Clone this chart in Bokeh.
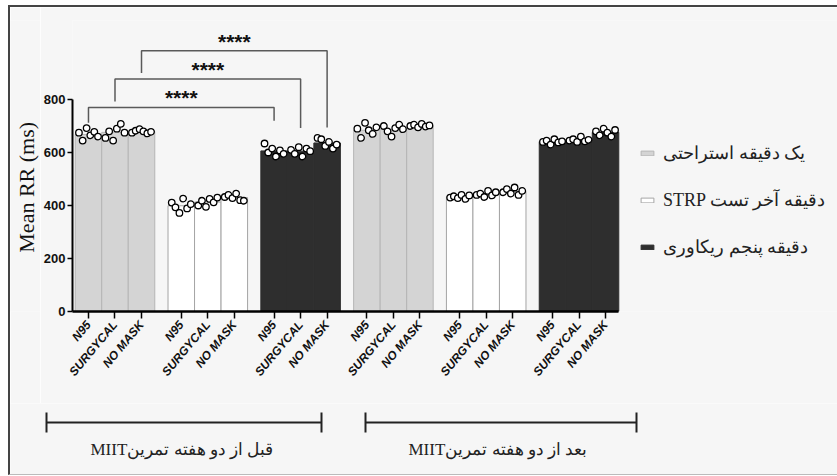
import math
from bokeh.plotting import figure
from bokeh.models import FixedTicker, Legend, LegendItem
from bokeh.layouts import column, row
from bokeh.core.properties import value
from bokeh.embed import file_html
from bokeh.resources import INLINE

# ---------------- data ----------------
masks = ["N95", "SURGYCAL", "NO MASK"]
phases = ["یک دقیقه استراحتی", "STRP دقیقه آخر تست", "دقیقه پنجم ریکاوری"]
periods = ["MIITقبل از دو هفته تمرین", "MIITبعد از دو هفته تمرین"]
y_ticks = [0, 200, 400, 600, 800]
y_label = "Mean RR (ms)"

# bar means (ms), order: N95, SURGYCAL, NO MASK
pre_rest = [668, 676, 679]
pre_strp = [399, 413, 430]
pre_recovery = [606, 605, 636]
post_rest = [684, 687, 701]
post_strp = [433, 443, 453]
post_recovery = [641, 648, 676]

# individual subjects (ms)
pre_rest_points = [[675, 645, 692, 665, 678, 660],
                   [655, 680, 645, 690, 708, 675],
                   [675, 682, 688, 680, 672, 678]]
pre_strp_points = [[411, 393, 372, 426, 389, 405],
                   [400, 418, 395, 425, 412, 430],
                   [432, 440, 428, 445, 420, 418]]
pre_recovery_points = [[634, 600, 615, 585, 608, 595],
                       [610, 595, 620, 585, 615, 605],
                       [655, 650, 625, 640, 615, 630]]
post_rest_points = [[690, 655, 712, 684, 670, 695],
                    [700, 680, 660, 692, 705, 688],
                    [700, 705, 695, 708, 698, 702]]
post_strp_points = [[430, 435, 428, 440, 425, 438],
                    [440, 445, 432, 455, 438, 450],
                    [450, 462, 445, 468, 440, 455]]
post_recovery_points = [[640, 645, 630, 650, 638, 642],
                        [645, 650, 640, 660, 642, 648],
                        [680, 665, 690, 675, 660, 685]]

comparisons = [(0, 6), (1, 7), (2, 8)]   # bar index pairs
significance = ["****", "****", "****"]

# ---------------- layout / style ----------------
groups_means = [pre_rest, pre_strp, pre_recovery, post_rest, post_strp, post_recovery]
groups_points = [pre_rest_points, pre_strp_points, pre_recovery_points,
                 post_rest_points, post_strp_points, post_recovery_points]

PXU = 26.55          # px per x unit
CANVAS_LEFT = 10     # page px where the canvases start
CANVAS_TOP = 7
W0 = 30              # width of the strip that holds the y title
FRAME_LEFT = 71      # page px of y axis
FRAME_TOP = 20
FRAME_BOTTOM = 311
X0 = -(87 - FRAME_LEFT) / PXU
W = 827
W1 = W - W0
H1 = 396
H2 = 71
BG = "#f6f6f6"
fills = ["#d4d4d4", "#ffffff", "#2e2e2e"]
lines = ["#b5b5b5", "#a5a5a5", "#2e2e2e"]
offsets = [-0.36, -0.22, -0.07, 0.07, 0.22, 0.36]

xpos = [g * 3.5 + i for g in range(6) for i in range(3)]
frame_h = FRAME_BOTTOM - FRAME_TOP
YPX = 212 / 800.0    # px per ms
P1_LEFT = CANVAS_LEFT + W0


def page_to_x(px_):
    return X0 + (px_ - FRAME_LEFT) / PXU


p = figure(width=W1, height=H1, output_backend="svg", toolbar_location=None,
           x_range=(X0, X0 + (W1 - (FRAME_LEFT - P1_LEFT)) / PXU),
           y_range=(0, frame_h / YPX),
           min_border_left=FRAME_LEFT - P1_LEFT, min_border_right=0,
           min_border_top=FRAME_TOP - CANVAS_TOP,
           min_border_bottom=H1 - (FRAME_TOP - CANVAS_TOP) - frame_h)
p.background_fill_color = BG
p.border_fill_color = BG
p.outline_line_color = None
p.grid.visible = False

renderers = []
for ph in range(3):
    xs, tops = [], []
    for per in range(2):
        g = per * 3 + ph
        for i in range(3):
            xs.append(xpos[g * 3 + i])
            tops.append(groups_means[g][i])
    r = p.vbar(x=xs, top=tops, bottom=0, width=1.0, fill_color=fills[ph],
               line_color=lines[ph], line_width=1)
    renderers.append(r)

px, py = [], []
for g in range(6):
    for i in range(3):
        for k, v in enumerate(groups_points[g][i]):
            px.append(xpos[g * 3 + i] + offsets[k])
            py.append(v)
p.scatter(px, py, marker="circle", size=6.5, fill_color="white",
          line_color="black", line_width=1.3)

# significance brackets
tops_b = [770, 877, 984]
left_bot = [712, 792, 900]
right_bot = [720, 692, 694]
bx, by = [], []
for k, (a, b) in enumerate(comparisons):
    bx.append([xpos[a], xpos[a], xpos[b], xpos[b]])
    by.append([left_bot[k], tops_b[k], tops_b[k], right_bot[k]])
p.multi_line(bx, by, line_color="#5a5a5a", line_width=1.5)
p.text(x=[(xpos[a] + xpos[b]) / 2 for a, b in comparisons],
       y=[t + 36 for t in tops_b], text=significance,
       text_font=value("Liberation Sans"), text_font_style="bold",
       text_font_size="21px", text_align="center", text_baseline="alphabetic",
       text_color="#111111")

# axes
p.xaxis.ticker = FixedTicker(ticks=xpos, minor_ticks=[])
p.xaxis.major_label_overrides = {xpos[j]: masks[j % 3] for j in range(18)}
p.xaxis.major_label_orientation = math.radians(50)
p.xaxis.major_label_text_font = "Liberation Sans"
p.xaxis.major_label_text_font_style = "bold italic"
p.xaxis.major_label_text_font_size = "12px"
p.xaxis.major_label_text_color = "#111111"
p.xaxis.major_label_standoff = 4
p.xaxis.bounds = (X0, 20.0)
p.xaxis.axis_line_width = 2.5
p.xaxis.axis_line_color = "black"
p.xaxis.major_tick_in = 0
p.xaxis.major_tick_out = 7
p.xaxis.major_tick_line_width = 1.5
p.xaxis.minor_tick_out = 0

p.yaxis.ticker = FixedTicker(ticks=y_ticks, minor_ticks=[])
p.yaxis.bounds = (0, 800)
p.yaxis.axis_line_width = 2
p.yaxis.axis_line_color = "black"
p.yaxis.major_tick_in = 0
p.yaxis.major_tick_out = 5
p.yaxis.major_tick_line_width = 1.5
p.yaxis.minor_tick_out = 0
p.yaxis.major_label_text_font = "Liberation Sans"
p.yaxis.major_label_text_font_style = "bold"
p.yaxis.major_label_text_font_size = "13px"
p.yaxis.major_label_text_color = "#111111"
p.yaxis.major_label_standoff = 2

legend = Legend(items=[LegendItem(label=phases[i], renderers=[renderers[i]]) for i in range(3)],
                location=(638 - FRAME_LEFT, FRAME_BOTTOM - 259))
legend.background_fill_alpha = 0
legend.border_line_color = None
legend.padding = 0
legend.margin = 0
legend.spacing = 23
legend.label_height = 24
legend.glyph_height = 6
legend.glyph_width = 16
legend.label_standoff = 8
legend.label_text_font = "Liberation Serif"
legend.label_text_font_size = "18px"
legend.label_text_color = "#222222"
p.add_layout(legend)

# ---------------- y axis title strip ----------------
p0 = figure(width=W0, height=H1, output_backend="svg", toolbar_location=None,
            x_range=(0, W0), y_range=(0, H1),
            x_axis_location=None, y_axis_location=None,
            min_border=0, min_border_left=0, min_border_right=0,
            min_border_top=0, min_border_bottom=0)
p0.background_fill_color = BG
p0.border_fill_color = BG
p0.outline_line_color = None
p0.grid.visible = False
p0.text(x=[26 - CANVAS_LEFT], y=[H1 - (197 - CANVAS_TOP) - 37], text=[y_label],
        angle=math.pi / 2, text_font=value("Liberation Serif"),
        text_font_size="22px", text_align="center", text_baseline="middle",
        text_color="#111111")

# ---------------- bottom period brackets ----------------
xs2 = page_to_x(CANVAS_LEFT)
p2 = figure(width=W, height=H2, output_backend="svg", toolbar_location=None,
            x_range=(xs2, xs2 + W / PXU), y_range=(0, H2),
            x_axis_location=None, y_axis_location=None,
            min_border=0, min_border_left=0, min_border_right=0,
            min_border_top=0, min_border_bottom=0)
p2.background_fill_color = BG
p2.border_fill_color = BG
p2.outline_line_color = None
p2.grid.visible = False

spans = [(page_to_x(46), page_to_x(321)), (page_to_x(365), page_to_x(636))]
text_left = [page_to_x(90), page_to_x(408)]
seg_x0, seg_x1, seg_y0, seg_y1 = [], [], [], []
for a, b in spans:
    seg_x0 += [a, a, b]
    seg_x1 += [b, a, b]
    seg_y0 += [52, 42, 42]
    seg_y1 += [52, 62, 62]
p2.segment(seg_x0, seg_y0, seg_x1, seg_y1, line_color="#222222", line_width=2)
p2.text(x=text_left, y=[25, 25], text=periods,
        text_font=value("Liberation Serif"), text_font_size="17px",
        text_align="left", text_baseline="middle", text_color="#222222")

layout = column(row(p0, p), p2,
                styles={"margin-left": "8px", "margin-top": "5px",
                        "border-left": "2px solid #444",
                        "border-top": "2px solid #444",
                        "border-bottom": "1px solid #bbbbbb"})

open("out.html", "w").write(file_html(layout, INLINE))
